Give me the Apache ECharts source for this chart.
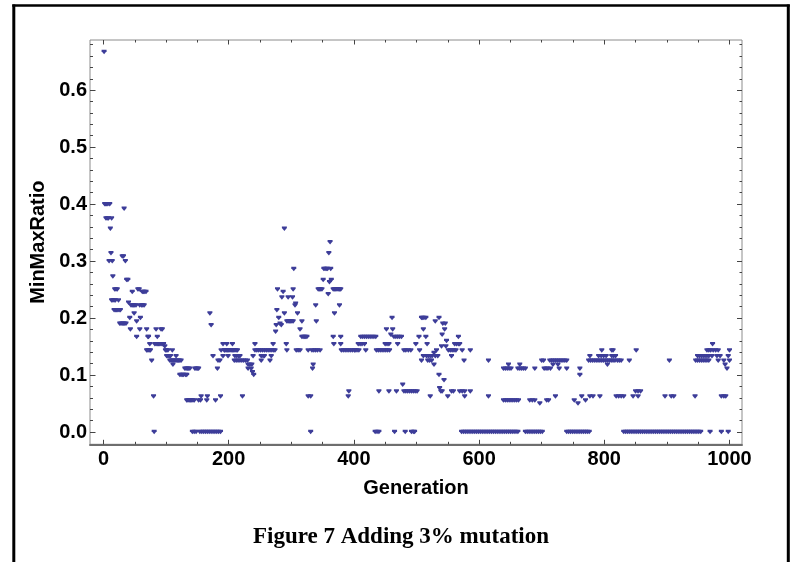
<!DOCTYPE html>
<html>
<head>
<meta charset="utf-8">
<script src="https://cdn.jsdelivr.net/npm/echarts@6/dist/echarts.min.js"></script>
<style>
html,body{margin:0;padding:0;background:#fff;}
#chart{width:791px;height:562px;}
</style>
</head>
<body>
<div id="chart"></div>
<script>
// ---- data: each ratio level with the generations at which it occurs ----
const ratioLevels = [
  0.667, 0.4, 0.392, 0.375, 0.357, 0.333, 0.314, 0.308, 0.3, 0.286,
  0.273, 0.267, 0.263, 0.25, 0.246, 0.242, 0.236, 0.231, 0.227, 0.225,
  0.222, 0.214, 0.208, 0.2, 0.194, 0.19, 0.1875, 0.18, 0.176, 0.171,
  0.167, 0.16, 0.154, 0.15, 0.143, 0.139, 0.133, 0.125, 0.118, 0.111,
  0.105, 0.1, 0.0909, 0.0833, 0.077, 0.0714, 0.0625, 0.0556, 0.05, 0
];
const generationsByLevel = [
  [1],
  [2, 3, 5, 7, 10],
  [33],
  [4, 6, 8, 13],
  [11, 289],
  [362],
  [12, 360],
  [30, 32],
  [9, 14, 35],
  [304, 352, 354, 356, 358, 363],
  [15],
  [37, 39, 351, 364],
  [361],
  [18, 20, 22, 55, 57, 278, 303, 343, 345, 347, 349, 367, 369, 371, 373, 375, 377, 379],
  [46, 62, 64, 66, 68, 287],
  [359],
  [285, 295, 302],
  [13, 15, 17, 19, 24],
  [40],
  [307],
  [44, 46, 48, 50, 52, 58, 61, 63, 65, 306, 339, 377],
  [17, 19, 21, 23, 25, 27, 277],
  [49, 170, 289, 310, 369],
  [42, 59, 280, 461, 508, 510, 512, 515, 536],
  [53, 293, 295, 297, 299, 301, 303, 317, 340, 530],
  [26, 28, 30, 32, 34, 36, 282, 542, 546],
  [172, 276, 284],
  [43, 58, 69, 84, 92, 94, 314, 452, 462, 511, 545],
  [275],
  [459, 541],
  [53, 71, 72, 86, 317, 319, 321, 323, 325, 367, 379, 411, 414, 417, 420, 423, 426, 429, 432, 435,
   464, 467, 470, 473, 476, 504, 515, 567],
  [548],
  [74, 82, 84, 86, 88, 90, 92, 94, 96, 191, 197, 206, 242, 271, 292, 368, 379, 407, 410, 413, 417,
   450, 453, 456, 470, 499, 517, 561, 564, 567, 569, 973],
  [98, 540, 547],
  [69, 71, 73, 75, 99, 101, 103, 110, 188, 193, 194, 196, 198, 200, 202, 204, 206, 208, 210, 212, 214,
   242, 245, 248, 251, 254, 257, 260, 263, 266, 269, 272, 274, 293, 308, 311, 314, 327, 333, 336, 339,
   342, 346, 380, 383, 386, 389, 392, 395, 398, 401, 402, 405, 408, 419, 436, 439, 442, 445, 448, 451,
   454, 457, 480, 483, 487, 491, 505, 532, 551, 554, 557, 560, 563, 573, 586, 796, 812, 814, 851, 964,
   967, 970, 974, 978, 982, 1000],
  [528],
  [101, 103, 105, 107, 116, 175, 191, 199, 210, 213, 216, 218, 239, 252, 255, 257, 268, 511, 516, 519,
   522, 525, 530, 534, 556, 777, 791, 795, 799, 803, 812, 815, 818, 949, 952, 955, 958, 961, 964, 967,
   972, 980, 985, 998],
  [77, 106, 108, 110, 112, 114, 116, 118, 120, 122, 124, 183, 186, 209, 212, 215, 218, 221, 224, 227,
   230, 252, 266, 508, 518, 521, 524, 576, 615, 700, 703, 713, 716, 719, 722, 725, 728, 731, 734, 737,
   740, 775, 778, 781, 784, 787, 790, 793, 796, 799, 802, 805, 808, 811, 814, 817, 821, 824, 827, 840,
   904, 946, 949, 952, 955, 958, 961, 964, 967, 982, 991, 1000],
  [111, 231, 234, 237, 335, 528, 647, 665, 718, 726, 805, 993],
  [130, 132, 134, 136, 138, 146, 148, 150, 152, 182, 231, 236, 334, 639, 642, 645, 648, 651, 662, 665,
   668, 671, 674, 689, 704, 707, 710, 714, 728, 740, 761, 996],
  [238],
  [122, 124, 126, 128, 131, 133, 240, 536, 761],
  [544],
  [478],
  [537],
  [392, 440, 456, 468, 480, 483, 486, 489, 492, 495, 498, 501, 539, 541, 556, 559, 569, 573, 577, 586,
   850, 854, 858],
  [80, 156, 166, 187, 222, 327, 331, 391, 522, 550, 577, 615, 722, 764, 777, 782, 793, 819, 823, 827,
   831, 846, 854, 897, 907, 911, 945, 987, 991, 994],
  [133, 135, 137, 139, 141, 143, 145, 152, 155, 165, 179, 639, 642, 645, 648, 651, 654, 657, 660, 663,
   681, 685, 689, 708, 711, 752, 770],
  [697, 758],
  [81, 142, 145, 148, 154, 157, 160, 163, 166, 169, 172, 175, 178, 181, 184, 187, 331, 434, 437, 440,
   465, 482, 492, 495, 497, 572, 575, 578, 581, 584, 587, 590, 593, 596, 599, 602, 605, 608, 611, 614,
   617, 620, 623, 626, 629, 632, 635, 638, 641, 644, 647, 650, 653, 656, 659, 662, 674, 677, 680, 683,
   686, 689, 692, 695, 698, 701, 740, 743, 746, 749, 752, 755, 758, 761, 764, 767, 770, 773, 776, 831,
   834, 837, 840, 843, 846, 849, 852, 855, 858, 861, 864, 867, 870, 873, 876, 879, 882, 885, 888, 891,
   894, 897, 900, 903, 906, 909, 912, 915, 918, 921, 924, 927, 930, 933, 936, 939, 942, 945, 948, 951,
   954, 969, 987, 998]
];

// ---- tick positions ----
const xMajorTicks = [0, 200, 400, 600, 800, 1000];
const xMinorTicks = [50, 100, 150, 250, 300, 350, 450, 500, 550, 650, 700, 750, 850, 900, 950];
const yMajorTicks = [0, 0.1, 0.2, 0.3, 0.4, 0.5, 0.6];
const yMinorTicks = [0.02, 0.04, 0.06, 0.08, 0.12, 0.14, 0.16, 0.18, 0.22, 0.24, 0.26, 0.28,
  0.32, 0.34, 0.36, 0.38, 0.42, 0.44, 0.46, 0.48, 0.52, 0.54, 0.56, 0.58, 0.62, 0.64, 0.66, 0.68];

const xName = 'Generation';
const yName = 'MinMaxRatio';
const caption = 'Figure 7 Adding 3% mutation';

// ---- build the scatter data ----
const points = [];
ratioLevels.forEach((v, i) => {
  generationsByLevel[i].forEach(g => points.push([g, v]));
});

const X_MIN = -21.5, X_MAX = 1020, Y_MIN = -0.0214, Y_MAX = 0.688;
const tickColor = '#444';
const labelFont = {fontFamily: 'Liberation Sans, Arial, sans-serif', fontWeight: 'bold', fontSize: 20, color: '#000'};

function xAx(pos, ticks, len, withLabel, extra) {
  return Object.assign({
    type: 'value', position: pos, min: X_MIN, max: X_MAX,
    splitLine: {show: false},
    axisLine: {show: false, onZero: false},
    axisTick: {show: true, inside: true, length: len, customValues: ticks, lineStyle: {color: tickColor, width: 1}},
    axisLabel: withLabel ? Object.assign({show: true, customValues: ticks, margin: 5,
      formatter: v => String(Math.round(v))}, labelFont) : {show: false}
  }, extra || {});
}
function yAx(pos, ticks, len, withLabel, extra) {
  return Object.assign({
    type: 'value', position: pos, min: Y_MIN, max: Y_MAX,
    splitLine: {show: false},
    axisLine: {show: false, onZero: false},
    axisTick: {show: true, inside: true, length: len, customValues: ticks, lineStyle: {color: tickColor, width: 1}},
    axisLabel: withLabel ? Object.assign({show: true, customValues: ticks, margin: 3,
      formatter: v => Number(v).toFixed(1)}, labelFont) : {show: false}
  }, extra || {});
}

const chart = echarts.init(document.getElementById('chart'), null, {renderer: 'canvas'});
chart.setOption({
  animation: false,
  backgroundColor: '#fff',
  grid: {left: 90, top: 40, width: 652, height: 404.3, show: true, borderColor: '#8c8c8c', borderWidth: 1, containLabel: false},
  xAxis: [
    xAx('bottom', xMajorTicks, 4.5, true, {
      axisLine: {show: true, onZero: false, lineStyle: {color: '#6e6e6e', width: 2}},
      name: xName, nameLocation: 'middle', nameGap: 34,
      nameTextStyle: labelFont
    }),
    xAx('bottom', xMinorTicks, 2.5, false),
    xAx('top', xMajorTicks, 4.5, false),
    xAx('top', xMinorTicks, 2.5, false)
  ],
  yAxis: [
    yAx('left', yMajorTicks, 5.5, true, {
      name: yName, nameLocation: 'middle', nameGap: 41,
      nameTextStyle: labelFont
    }),
    yAx('left', yMinorTicks, 3, false),
    yAx('right', yMajorTicks, 5, false),
    yAx('right', yMinorTicks, 2.5, false)
  ],
  series: [{
    type: 'scatter',
    xAxisIndex: 0, yAxisIndex: 0,
    data: points,
    symbol: 'path://M0,0 L10,0 L10,3 L5,9 L0,3 Z',
    symbolSize: [5, 4.5],
    itemStyle: {color: '#3d3d99', opacity: 1},
    silent: true
  }],
  graphic: [
    {type: 'line', shape: {x1: 13.8, y1: 4.5, x2: 13.8, y2: 562}, style: {stroke: '#000', lineWidth: 3}},
    {type: 'line', shape: {x1: 12.3, y1: 5.5, x2: 789.8, y2: 5.5}, style: {stroke: '#000', lineWidth: 2.4}},
    {type: 'line', shape: {x1: 788.3, y1: 4.5, x2: 788.3, y2: 562}, style: {stroke: '#000', lineWidth: 3}},
    {type: 'text', x: 401, y: 537, style: {text: caption, fill: '#000',
      font: 'bold 23px "Liberation Serif", "Times New Roman", serif',
      textAlign: 'center', textVerticalAlign: 'middle'}}
  ]
});
</script>
</body>
</html>
